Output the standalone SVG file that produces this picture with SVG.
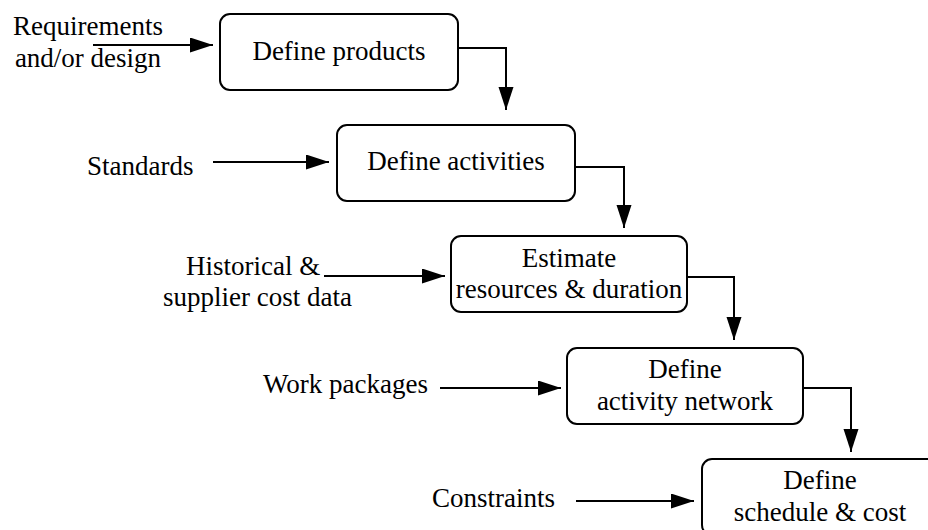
<svg xmlns="http://www.w3.org/2000/svg" width="928" height="530" viewBox="0 0 928 530">
  <style>
    .box { fill: #ffffff; stroke: #000000; stroke-width: 2; }
    text { font-family: "Liberation Serif", "Times New Roman", serif; font-size: 27px; fill: #000000; }
    .mid { text-anchor: middle; }
    .wire { fill: none; stroke: #000000; stroke-width: 2; marker-end: url(#head); }
  </style>
  <defs>
    <marker id="head" markerUnits="userSpaceOnUse" markerWidth="24" markerHeight="16" refX="23" refY="7.5" orient="auto">
      <path d="M0,0 L23,7.5 L0,15 Z" fill="#000000"/>
    </marker>
  </defs>
  <rect width="928" height="530" fill="#ffffff"/>

  <!-- process steps -->
  <g id="define-products">
    <rect class="box" x="220" y="14" width="238" height="76" rx="10"/>
    <text class="mid" x="339" y="60">Define products</text>
  </g>
  <g id="define-activities">
    <rect class="box" x="337" y="125" width="238" height="76" rx="10"/>
    <text class="mid" x="456" y="170">Define activities</text>
  </g>
  <g id="estimate-resources">
    <rect class="box" x="451" y="236" width="236" height="76" rx="10"/>
    <text class="mid" x="569" y="267">Estimate</text>
    <text class="mid" x="569" y="298">resources &amp; duration</text>
  </g>
  <g id="define-network">
    <rect class="box" x="567" y="348" width="236" height="76" rx="10"/>
    <text class="mid" x="685" y="378">Define</text>
    <text class="mid" x="685" y="410">activity network</text>
  </g>
  <g id="define-schedule">
    <rect class="box" x="702" y="459" width="237" height="76" rx="10"/>
    <text class="mid" x="820" y="489">Define</text>
    <text class="mid" x="820" y="521">schedule &amp; cost</text>
  </g>

  <!-- inputs -->
  <g id="in-requirements">
    <text class="mid" x="88" y="35">Requirements</text>
    <text class="mid" x="88" y="67">and/or design</text>
  </g>
  <g id="in-standards">
    <text x="87" y="175">Standards</text>
  </g>
  <g id="in-historical">
    <text x="186" y="275">Historical &amp;</text>
    <text x="163" y="306">supplier cost data</text>
  </g>
  <g id="in-work-packages">
    <text x="263" y="393">Work packages</text>
  </g>
  <g id="in-constraints">
    <text x="432" y="507">Constraints</text>
  </g>

  <!-- connectors -->
  <g id="connectors">
    <path class="wire" d="M93,45 H213"/>
    <path class="wire" d="M213,162 H329"/>
    <path class="wire" d="M324,276 H445"/>
    <path class="wire" d="M440,388 H561"/>
    <path class="wire" d="M576,501 H694"/>
    <path class="wire" d="M458,48 H506 V110"/>
    <path class="wire" d="M575,167 H624 V228"/>
    <path class="wire" d="M687,277 H734 V340"/>
    <path class="wire" d="M803,388 H851 V452"/>
  </g>
</svg>
